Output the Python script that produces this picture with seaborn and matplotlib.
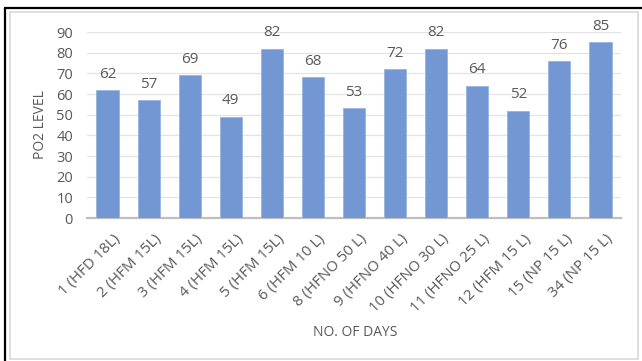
import matplotlib
matplotlib.use("Agg")
import matplotlib.pyplot as plt
import matplotlib.transforms as mtransforms
import seaborn as sns
import pandas as pd
from matplotlib.patches import Rectangle
from matplotlib.lines import Line2D

days = ["1 (HFD 18L)", "2 (HFM 15L)", "3 (HFM 15L)", "4 (HFM 15L)", "5 (HFM 15L)",
        "6 (HFM 10 L)", "8 (HFNO 50 L)", "9 (HFNO 40 L)", "10 (HFNO 30 L)",
        "11 (HFNO 25 L)", "12 (HFM 15 L)", "15 (NP 15 L)", "34 (NP 15 L)"]
po2 = [62, 57, 69, 49, 82, 68, 53, 72, 82, 64, 52, 76, 85]
y_ticks = [0, 10, 20, 30, 40, 50, 60, 70, 80, 90]

sns.set_theme(style="white")
plt.rcParams["font.family"] = ["Open Sans", "DejaVu Sans"]

df = pd.DataFrame({"day": days, "po2": po2})

fig = plt.figure(figsize=(6.42, 3.61), dpi=100)
ax = fig.add_axes([87 / 642, 143 / 361, 534 / 642, 186 / 361])

text_gray = "#595959"
sns.barplot(data=df, x="day", y="po2", color="#7297d3", width=0.54,
            saturation=1, ax=ax, edgecolor="#9ab4e0", linewidth=0.6, zorder=3)

ax.set_ylim(0, 90)
ax.set_yticks(y_ticks)
ax.set_xlim(-0.5, len(days) - 0.5)
ax.yaxis.grid(True, color="#e3e3e3", linewidth=0.9, zorder=0)
for s in ["top", "right", "left"]:
    ax.spines[s].set_visible(False)
ax.spines["bottom"].set_color("#bfbfbf")
ax.spines["bottom"].set_linewidth(1.6)

ax.tick_params(axis="y", length=0, labelsize=10.5, labelcolor=text_gray, pad=10)
ax.tick_params(axis="x", length=0, labelsize=10.8, labelcolor=text_gray, pad=4)
shift = mtransforms.ScaledTranslation(5 / 100, -8 / 100, fig.dpi_scale_trans)
for lab in ax.get_xticklabels():
    lab.set_rotation(45)
    lab.set_ha("right")
    lab.set_rotation_mode("anchor")
    lab.set_transform(lab.get_transform() + shift)

for i, v in enumerate(po2):
    ax.annotate(str(v), (i, v), xytext=(0, 6), textcoords="offset points",
                ha="center", va="bottom", fontsize=11, color=text_gray)

ax.set_xlabel("NO. OF DAYS", fontsize=10, color=text_gray)
ax.set_ylabel("PO2 LEVEL", fontsize=10, color=text_gray)
ax.xaxis.set_label_coords(0.502, -0.575)
ax.yaxis.set_label_coords(-0.073, 0.5)

# chart area border and outer frame
fig.add_artist(Rectangle((10 / 642, 2 / 361), 628 / 642, 347 / 361,
                         transform=fig.transFigure, fill=False,
                         edgecolor="#d9d9d9", linewidth=1.2))
fig.add_artist(Line2D([5 / 642, 1.0], [1 - 8 / 361, 1 - 8 / 361],
                      transform=fig.transFigure, color="black", linewidth=1.6))
fig.add_artist(Line2D([5 / 642, 5 / 642], [0, 1 - 8 / 361],
                      transform=fig.transFigure, color="black", linewidth=1.6))

fig.savefig("out.png", dpi=100)
